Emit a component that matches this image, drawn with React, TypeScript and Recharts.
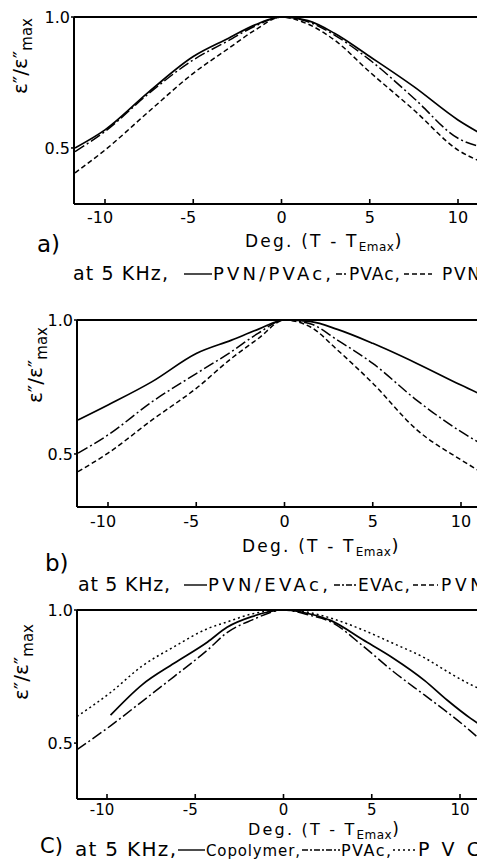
import { LineChart, Line, XAxis, YAxis, ReferenceLine } from "recharts";

// temperature offset from the loss maximum, deg
const degA = [-11.7, -10, -7.5, -5, -3, -1.5, 0, 1.5, 3, 5, 7.5, 10, 11.6];
const pvnPvacA = [0.5, 0.569, 0.715, 0.849, 0.919, 0.97, 1.0, 0.986, 0.938, 0.849, 0.734, 0.607, 0.543];
const pvacA = [0.486, 0.563, 0.709, 0.836, 0.91, 0.965, 1.0, 0.982, 0.931, 0.836, 0.69, 0.537, 0.5];
const pvnA = [0.405, 0.492, 0.64, 0.785, 0.88, 0.95, 1.0, 0.973, 0.912, 0.79, 0.645, 0.492, 0.44];

const degB = [-11.7, -10, -7.5, -5, -3, -1.5, 0, 1.5, 3, 5, 7.5, 10, 11.6];
const pvnEvacB = [0.627, 0.683, 0.77, 0.875, 0.925, 0.965, 1.0, 0.994, 0.965, 0.913, 0.838, 0.757, 0.708];
const evacB = [0.503, 0.571, 0.695, 0.8, 0.882, 0.95, 1.0, 0.985, 0.925, 0.838, 0.7, 0.583, 0.521];
const pvnB = [0.434, 0.503, 0.627, 0.745, 0.857, 0.93, 1.0, 0.973, 0.888, 0.764, 0.59, 0.478, 0.415];

const degC = [-11.7, -9.8, -8, -6.2, -4.3, -3.2, -1.8, 0, 1.5, 2.7, 4.5, 6.2, 8, 9.3, 10.6, 11.6];
const copolymerC = [null, 0.605, 0.72, 0.8, 0.88, 0.935, 0.975, 1.0, 0.985, 0.96, 0.888, 0.82, 0.735, 0.66, 0.593, 0.55];
const pvacC = [0.475, 0.565, 0.657, 0.75, 0.85, 0.915, 0.962, 1.0, 0.98, 0.955, 0.865, 0.77, 0.68, 0.615, 0.545, 0.485];
const pvcC = [0.6, 0.69, 0.79, 0.862, 0.93, 0.955, 0.985, 1.0, 0.99, 0.969, 0.925, 0.875, 0.82, 0.768, 0.72, 0.69];

const xTicks = [-10, -5, 0, 5, 10];
const yTicks = [0.5, 1.0];

const FONT = "'DejaVu Sans', sans-serif";
const PX_PER_DEG = 17.65;
const CHART_W = 520;
const CHART_H = 290;
const X_AXIS_H = 30;

const SOLID = undefined;
const DASH_DOT = "11 3 2 3";
const DASHED = "5 3";
const DOTTED = "2 3";

type Series = { name: string; values: (number | null)[]; dash?: string };

type Panel = {
  letter: string;
  top: number;
  plotLeft: number;
  plotTop: number;
  plotBottom: number;
  xMin: number;
  yMin: number;
  tickDy: number;
  tickSize: number;
  deg: number[];
  series: Series[];
  yLabel: [number, number];
  title: [number, number, number];
  letterPos: [number, number, number];
  caption: { y: number; x: number; w: number; size: number };
  legend: { x1: number; x2: number; tx: number; tw: number; size: number }[];
};

const panels: Panel[] = [
  {
    letter: "a)",
    top: 0,
    plotLeft: 74,
    plotTop: 17,
    plotBottom: 204,
    xMin: -10 - 31 / PX_PER_DEG,
    yMin: 0.286,
    tickDy: 19,
    tickSize: 16,
    deg: degA,
    series: [
      { name: "PVN/PVAc,", values: pvnPvacA, dash: SOLID },
      { name: "PVAc,", values: pvacA, dash: DASH_DOT },
      { name: "PVN", values: pvnA, dash: DASHED },
    ],
    yLabel: [27, 56],
    title: [245, 247, 17],
    letterPos: [37, 252, 23],
    caption: { y: 280, x: 73, w: 95, size: 19 },
    legend: [
      { x1: 184, x2: 212, tx: 213, tw: 118, size: 18 },
      { x1: 336, x2: 348, tx: 349, tw: 51, size: 17 },
      { x1: 404, x2: 432, tx: 442, tw: 38, size: 17 },
    ],
  },
  {
    letter: "b)",
    top: 290,
    plotLeft: 77,
    plotTop: 30,
    plotBottom: 217,
    xMin: -10 - 31 / PX_PER_DEG,
    yMin: 0.302,
    tickDy: 20,
    tickSize: 16,
    deg: degB,
    series: [
      { name: "PVN/EVAc,", values: pvnEvacB, dash: SOLID },
      { name: "EVAc,", values: evacB, dash: DASH_DOT },
      { name: "PVN", values: pvnB, dash: DASHED },
    ],
    yLabel: [42, 365],
    title: [242, 552, 17],
    letterPos: [45, 571, 23],
    caption: { y: 591, x: 78, w: 92, size: 19 },
    legend: [
      { x1: 184, x2: 207, tx: 208, tw: 120, size: 18 },
      { x1: 334, x2: 357, tx: 358, tw: 52, size: 17 },
      { x1: 413, x2: 438, tx: 441, tw: 42, size: 17 },
    ],
  },
  {
    letter: "C)",
    top: 580,
    plotLeft: 77,
    plotTop: 30,
    plotBottom: 219,
    xMin: -10 - 30 / PX_PER_DEG,
    yMin: 0.29,
    tickDy: 16,
    tickSize: 15,
    deg: degC,
    series: [
      { name: "Copolymer,", values: copolymerC, dash: SOLID },
      { name: "PVAc,", values: pvacC, dash: DASH_DOT },
      { name: "PVC", values: pvcC, dash: DOTTED },
    ],
    yLabel: [28, 662],
    title: [248, 835, 16],
    letterPos: [40, 853, 21],
    caption: { y: 856, x: 75, w: 101, size: 20 },
    legend: [
      { x1: 178, x2: 205, tx: 206, tw: 94, size: 15 },
      { x1: 302, x2: 340, tx: 341, tw: 50, size: 16 },
      { x1: 393, x2: 415, tx: 418, tw: 62, size: 19 },
    ],
  },
];

function makeTick(dy: number, size: number) {
  return function XTick(props: any) {
    const { x, y, payload } = props;
    const v = payload.value as number;
    return (
      <g>
        <line x1={x} x2={x} y1={y} y2={y - 5} stroke="#000" strokeWidth={1.6} />
        <text
          x={x}
          y={y + dy}
          dx={v < 0 ? -5 : 0}
          textAnchor="middle"
          fontSize={size}
          fontFamily={FONT}
          fill="#000"
        >
          {String(v)}
        </text>
      </g>
    );
  };
}

function PanelChart({ p }: { p: Panel }) {
  const rows = p.deg.map((d, i) => {
    const row: Record<string, number | null> = { deg: d };
    p.series.forEach((s, j) => {
      row["s" + j] = s.values[i];
    });
    return row;
  });
  const xMax = p.xMin + (CHART_W - 20 - p.plotLeft) / PX_PER_DEG;
  const Tick = makeTick(p.tickDy, p.tickSize);

  return (
    <div style={{ position: "absolute", left: 0, top: p.top }}>
      <LineChart
        width={CHART_W}
        height={CHART_H}
        data={rows}
        margin={{ top: p.plotTop, right: 20, bottom: CHART_H - p.plotBottom - X_AXIS_H, left: 0 }}
      >
        <XAxis
          dataKey="deg"
          type="number"
          domain={[p.xMin, xMax]}
          allowDataOverflow
          ticks={xTicks}
          interval={0}
          tick={<Tick />}
          tickLine={false}
          tickSize={0}
          tickMargin={0}
          height={X_AXIS_H}
          axisLine={{ stroke: "#000", strokeWidth: 2 }}
        />
        <YAxis
          type="number"
          domain={[p.yMin, 1]}
          allowDataOverflow
          ticks={yTicks}
          interval={0}
          width={p.plotLeft}
          tickFormatter={(v: number) => v.toFixed(1)}
          tick={{ fill: "#000", fontSize: 16, fontFamily: FONT }}
          tickSize={3}
          tickMargin={1}
          tickLine={{ stroke: "#000", strokeWidth: 1.5 }}
          axisLine={{ stroke: "#000", strokeWidth: 2 }}
        />
        <ReferenceLine y={1} stroke="#000" strokeWidth={2} ifOverflow="visible" />
        {p.series.map((s, j) => (
          <Line
            key={s.name}
            dataKey={"s" + j}
            name={s.name}
            type="monotone"
            stroke="#000"
            strokeWidth={s.dash ? 1.5 : 1.7}
            strokeDasharray={s.dash}
            dot={false}
            activeDot={false}
            connectNulls={false}
            isAnimationActive={false}
          />
        ))}
      </LineChart>
    </div>
  );
}

function PanelText({ p }: { p: Panel }) {
  const [lx, ly] = p.yLabel;
  const [tx, ty, ts] = p.title;
  const [ax, ay, as] = p.letterPos;
  return (
    <g fontFamily={FONT} fill="#000">
      <text transform={`translate(${lx},${ly}) rotate(-90)`} textAnchor="middle" fontSize={20}>
        ε″/ε″
        <tspan fontSize={15} dy={5}>
          max
        </tspan>
      </text>
      <text x={tx} y={ty} fontSize={ts} letterSpacing={2.2}>
        Deg. (T - T
        <tspan fontSize={12} dy={4} letterSpacing={0.5}>
          Emax
        </tspan>
        <tspan dy={-4} fontSize={ts + 1}>
          )
        </tspan>
      </text>
      <text x={ax} y={ay} fontSize={as}>
        {p.letter}
      </text>
      <text x={p.caption.x} y={p.caption.y} fontSize={p.caption.size} textLength={p.caption.w} lengthAdjust="spacing">
        at 5 KHz,
      </text>
      {p.series.map((s, j) => {
        const l = p.legend[j];
        return (
          <g key={s.name}>
            <line
              x1={l.x1}
              x2={l.x2}
              y1={p.caption.y - 6}
              y2={p.caption.y - 6}
              stroke="#000"
              strokeWidth={1.4}
              strokeDasharray={s.dash === DASH_DOT ? "6 2 2 2" : s.dash}
            />
            <text x={l.tx} y={p.caption.y} fontSize={l.size} textLength={l.tw} lengthAdjust="spacing">
              {s.name}
            </text>
          </g>
        );
      })}
    </g>
  );
}

export default function App() {
  return (
    <div
      style={{
        position: "relative",
        width: 485,
        height: 867,
        margin: -8,
        overflow: "hidden",
        background: "#fff",
      }}
    >
      {panels.map((p) => (
        <PanelChart key={p.letter} p={p} />
      ))}
      <svg
        width={485}
        height={867}
        style={{ position: "absolute", left: 0, top: 0, pointerEvents: "none" }}
      >
        {panels.map((p) => (
          <PanelText key={p.letter} p={p} />
        ))}
      </svg>
    </div>
  );
}
